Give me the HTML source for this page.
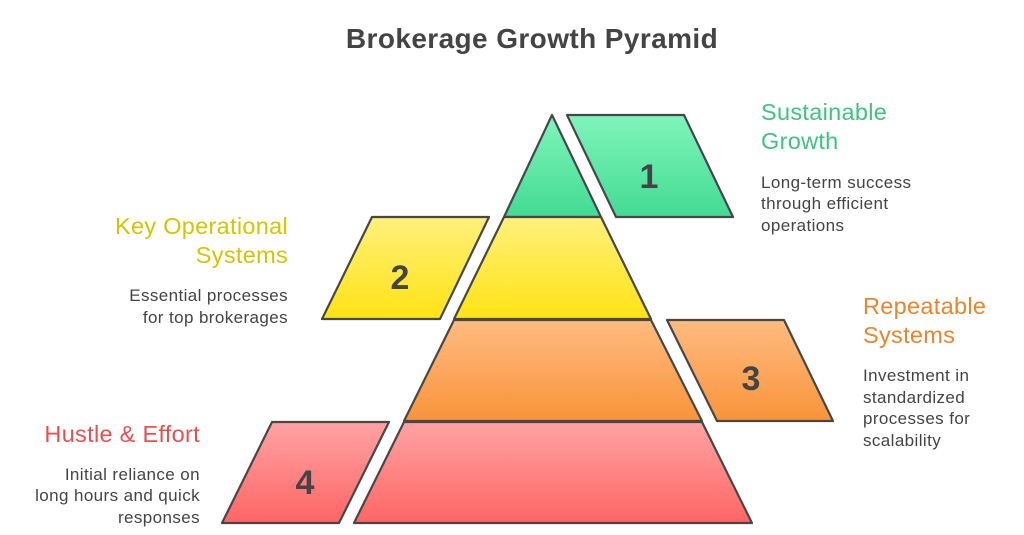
<!DOCTYPE html>
<html><head><meta charset="utf-8"><style>
body{margin:0;background:#fff;width:1024px;height:535px;overflow:hidden}
svg{display:block}
text{font-family:"Liberation Sans",sans-serif}
</style></head><body>
<svg width="1024" height="535" viewBox="0 0 1024 535">
<defs>
<linearGradient id="g" x1="0" y1="0" x2="0" y2="1"><stop offset="0" stop-color="#80f5bb"/><stop offset="1" stop-color="#42db93"/></linearGradient>
<linearGradient id="y" x1="0" y1="0" x2="0" y2="1"><stop offset="0" stop-color="#fff07c"/><stop offset="1" stop-color="#ffe313"/></linearGradient>
<linearGradient id="o" x1="0" y1="0" x2="0" y2="1"><stop offset="0" stop-color="#ffbb80"/><stop offset="1" stop-color="#f8943a"/></linearGradient>
<linearGradient id="r" x1="0" y1="0" x2="0" y2="1"><stop offset="0" stop-color="#ffa3a3"/><stop offset="1" stop-color="#ff6565"/></linearGradient>
</defs>
<text x="532" y="48" text-anchor="middle" font-size="28" font-weight="bold" fill="#444" letter-spacing="0.4">Brokerage Growth Pyramid</text>
<g stroke="#474747" stroke-width="2.2" stroke-linejoin="round">
<polygon points="552,115 601,217 504,217" fill="url(#g)"/>
<polygon points="504,217 601,217 651,319 454,319" fill="url(#y)"/>
<polygon points="454,320 651,320 702,421 404,421" fill="url(#o)"/>
<polygon points="404,422 702,422 752,523 354,523" fill="url(#r)"/>
<polygon points="567,115 684,115 733,217 616,217" fill="url(#g)"/>
<polygon points="372,217 489,217 440,319 322,319" fill="url(#y)"/>
<polygon points="667,320 784,320 833,421 717,421" fill="url(#o)"/>
<polygon points="272,422 389,422 339,523 222,523" fill="url(#r)"/>
</g>
<g font-size="34" font-weight="bold" fill="#444" text-anchor="middle">
<text x="649" y="188">1</text><text x="400" y="289">2</text><text x="751" y="390">3</text><text x="305" y="494">4</text>
</g>
<g font-size="23.5" letter-spacing="0.3">
<text x="761" y="120" fill="#3ec47f">Sustainable</text><text x="761" y="149" fill="#3ec47f">Growth</text>
<text x="288" y="234" fill="#d6c400" text-anchor="end">Key Operational</text><text x="288" y="263" fill="#d6c400" text-anchor="end">Systems</text>
<text x="863" y="314" fill="#ea842d">Repeatable</text><text x="863" y="343" fill="#ea842d">Systems</text>
<text x="200" y="442" fill="#e94f4f" text-anchor="end">Hustle &amp; Effort</text>
</g>
<g font-size="17" fill="#444" letter-spacing="0.4">
<text x="761" y="188">Long-term success</text><text x="761" y="209">through efficient</text><text x="761" y="231">operations</text>
<text x="288" y="301" text-anchor="end">Essential processes</text><text x="288" y="323" text-anchor="end">for top brokerages</text>
<text x="863" y="381">Investment in</text><text x="863" y="403">standardized</text><text x="863" y="424">processes for</text><text x="863" y="446">scalability</text>
<text x="200" y="480" text-anchor="end">Initial reliance on</text><text x="200" y="501" text-anchor="end">long hours and quick</text><text x="200" y="523" text-anchor="end">responses</text>
</g>
</svg>
</body></html>
